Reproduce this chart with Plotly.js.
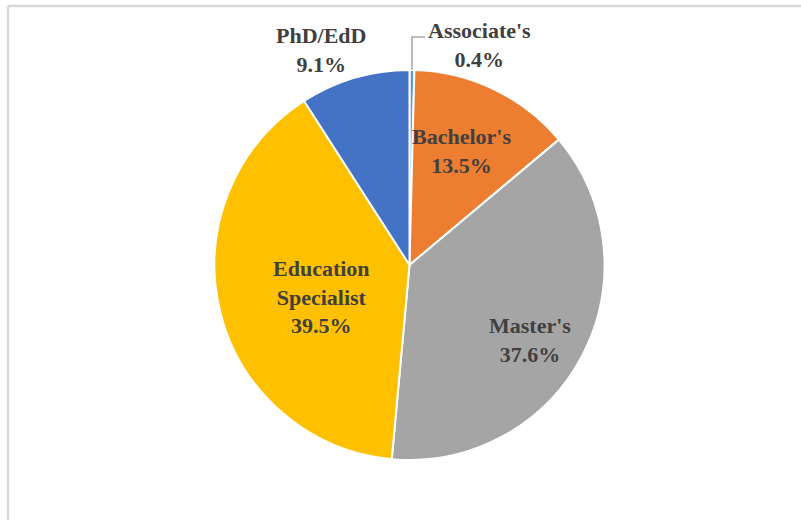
<!DOCTYPE html>
<html>
<head>
<meta charset="utf-8">
<script src="https://cdn.plot.ly/plotly-3.0.1.min.js"></script>
<style>
  html, body { margin: 0; padding: 0; background: #fff; }
  #chart { width: 801px; height: 520px; }
</style>
</head>
<body>
<div id="chart"></div>
<script>
// Degree held (percent), clockwise from 12 o'clock
const degrees = ["Associate's", "Bachelor's", "Master's", "Education Specialist", "PhD/EdD"];
const shares = [0.4, 13.5, 37.6, 39.5, 9.1];
const labelText = ["Associate's", "Bachelor's", "Master's", "Education<br>Specialist", "PhD/EdD"];
const colors = ["#5B9BD5", "#ED7D31", "#A5A5A5", "#FFC000", "#4472C4"];

// label placement: fraction of radius along slice middle, plus small nudge (px)
const labelRadius = [1.0, 0.646, 0.726, 0.477, 1.19];
const labelNudge = [[0, 0], [-3, -1], [-5, 9], [2, 10], [-23, 8]];

const W = 801, H = 520;
const cx = 409.5, cy = 265, R = 195;

const px = x => x / W;
const py = y => 1 - y / H;

const total = shares.reduce((s, v) => s + v, 0);
let cum = 0;
const annotations = [];
const shapes = [];
const labelFont = { family: "Liberation Serif, Times New Roman, serif", size: 22, color: "#404040" };

shares.forEach((v, i) => {
    const mid = (cum + v / 2) / total * 2 * Math.PI;
    cum += v;
    const sx = Math.sin(mid), sy = -Math.cos(mid);
    const txt = "<b>" + labelText[i] + "<br>" + v.toFixed(1) + "%</b>";
    if (i === 0) {
        // small slice: leader line from the rim, up then right
        const ex = cx + R * sx, ey = cy + R * sy;
        const top = ey - 33;
        shapes.push({
            type: "path", xref: "paper", yref: "paper",
            path: `M ${px(ex)} ${py(ey)} L ${px(ex)} ${py(top)} L ${px(ex + 13)} ${py(top)}`,
            line: { color: "#A6A6A6", width: 1.5 }
        });
        annotations.push({
            x: px(ex + 14), y: py(top + 8), xref: "paper", yref: "paper",
            xanchor: "left", yanchor: "middle", text: txt, showarrow: false,
            align: "center", font: labelFont
        });
    } else {
        const r = R * labelRadius[i];
        const x = cx + r * sx + labelNudge[i][0];
        const y = cy + r * sy + labelNudge[i][1];
        annotations.push({
            x: px(x), y: py(y), xref: "paper", yref: "paper",
            xanchor: "center", yanchor: "middle", text: txt, showarrow: false,
            align: "center", font: labelFont
        });
    }
});

// chart frame (top and left edges visible)
shapes.push({ type: "line", xref: "paper", yref: "paper", x0: px(8), y0: py(6), x1: 1.01, y1: py(6), line: { color: "#D9D9D9", width: 2.5 } });
shapes.push({ type: "line", xref: "paper", yref: "paper", x0: px(8), y0: py(6), x1: px(8), y1: -0.01, line: { color: "#D9D9D9", width: 2.5 } });

Plotly.newPlot("chart", [{
    type: "pie",
    labels: degrees,
    values: shares,
    sort: false,
    direction: "clockwise",
    rotation: 0,
    textinfo: "none",
    hoverinfo: "label+percent",
    marker: { colors: colors, line: { color: "#FFFFFF", width: 2 } },
    domain: { x: [px(cx - R), px(cx + R)], y: [py(cy + R), py(cy - R)] },
    showlegend: false
}], {
    width: W,
    height: H,
    margin: { l: 0, r: 0, t: 0, b: 0 },
    paper_bgcolor: "#FFFFFF",
    showlegend: false,
    annotations: annotations,
    shapes: shapes
}, { displayModeBar: false, staticPlot: true });
</script>
</body>
</html>
